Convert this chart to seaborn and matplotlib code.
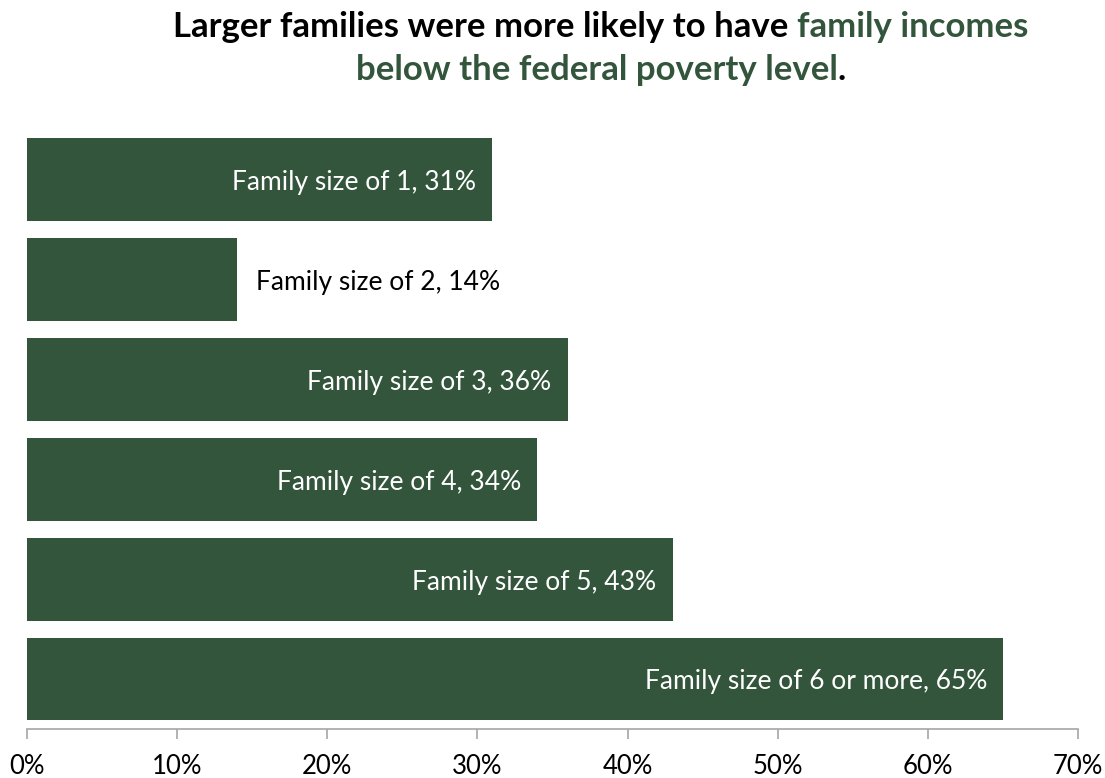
import matplotlib
matplotlib.use("Agg")
import matplotlib.pyplot as plt
import seaborn as sns
import pandas as pd
from matplotlib.ticker import FuncFormatter

categories = ["Family size of 1", "Family size of 2", "Family size of 3",
              "Family size of 4", "Family size of 5", "Family size of 6 or more"]
values = [31, 14, 36, 34, 43, 65]
outside = [False, True, False, False, False, False]
xticks = [0, 10, 20, 30, 40, 50, 60, 70]

GREEN = "#32553C"
FONT = ["Lato", "DejaVu Sans"]

sns.set_theme(style="white")
plt.rcParams['font.family'] = FONT

df = pd.DataFrame({"cat": categories, "val": values})

fig = plt.figure(figsize=(11.05, 7.78), dpi=100)
ax = fig.add_axes([0.0244, 0.063, 0.9512, 0.771])
sns.barplot(data=df, x="val", y="cat", orient="h", color=GREEN, saturation=1,
            width=0.83, ax=ax, edgecolor="none")
ax.set_xlim(0, 70)
ax.set_ylim(5.5, -0.5)
ax.set_xlabel("")
ax.set_ylabel("")
ax.set_yticks([])
ax.set_xticks(xticks)
ax.xaxis.set_major_formatter(FuncFormatter(lambda v, p: f"{int(v)}%"))
for s in ["top", "right", "left"]:
    ax.spines[s].set_visible(False)
ax.spines["bottom"].set_color("#A6A6A6")
ax.spines["bottom"].set_linewidth(1.2)
ax.tick_params(axis="x", bottom=True, length=7, width=1.2, color="#A6A6A6",
               labelsize=18.5, labelcolor="black", pad=11)

for i, (c, v, o) in enumerate(zip(categories, values, outside)):
    txt = f"{c}, {v}%"
    if o:
        ax.annotate(txt, (v, i), xytext=(19, -3), textcoords="offset pixels",
                    ha="left", va="center", color="black", fontsize=19)
    else:
        ax.annotate(txt, (v, i), xytext=(-16, -3), textcoords="offset pixels",
                    ha="right", va="center", color="white", fontsize=19)

# Title with mixed colours
fig.canvas.draw()
renderer = fig.canvas.get_renderer()

def draw_line(parts, y, cx):
    texts = []
    for s, col in parts:
        t = fig.text(0, y, s, color=col, fontsize=25, fontweight="bold",
                     ha="left", va="center")
        texts.append(t)
    widths = [t.get_window_extent(renderer).width for t in texts]
    total = sum(widths)
    x = cx * fig.bbox.width - total / 2
    for t, w in zip(texts, widths):
        t.set_x(x / fig.bbox.width)
        x += w

draw_line([("Larger families were more likely to have ", "black"),
           ("family incomes", GREEN)], 1 - 27 / 778, 601 / 1105)
draw_line([("below the federal poverty level", GREEN), (".", "black")],
          1 - 70 / 778, 601 / 1105)

fig.savefig("out.png", dpi=100)
